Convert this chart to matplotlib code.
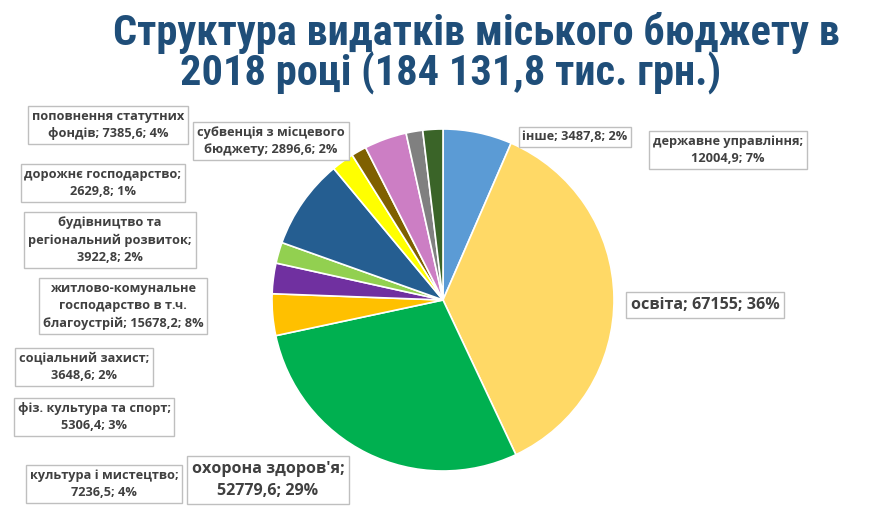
import matplotlib
matplotlib.use('Agg')
import matplotlib.pyplot as plt
from matplotlib import font_manager

# Data (тис. грн.), clockwise from 12 o'clock
categories = [
    "державне управління",
    "освіта",
    "охорона здоров'я",
    "культура і мистецтво",
    "фіз. культура та спорт",
    "соціальний захист",
    "житлово-комунальне\nгосподарство в т.ч.\nблагоустрій",
    "будівництво та\nрегіональний розвиток",
    "дорожнє господарство",
    "поповнення статутних\nфондів",
    "субвенція з місцевого\nбюджету",
    "інше",
]
values = [12004.9, 67155, 52779.6, 7236.5, 5306.4, 3648.6,
          15678.2, 3922.8, 2629.8, 7385.6, 2896.6, 3487.8]
percents = [7, 36, 29, 4, 3, 2, 8, 2, 1, 4, 2, 2]

colors = ['#5B9BD5', '#FFD966', '#00B050', '#FFC000', '#7030A0', '#92D050',
          '#255E91', '#FFFF00', '#7F6000', '#CC7EC4', '#808080', '#3A6428']

# label layout (pixel centres, y from top), separator before value, size
label_pos = [(728, 150), (705, 305), (268, 480), (104, 484), (94, 417), (84, 367),
             (123, 306), (110, 240), (103, 183), (108, 125), (271, 141), (575, 137)]
label_sep = [';\n', '; ', ';\n', ';\n', ';\n', ';\n', '; ', ';\n', ';\n', '; ', '; ', '; ']
label_big = [False, True, True] + [False] * 9

W, H = 874, 512
fig = plt.figure(figsize=(W / 100, H / 100), dpi=100)
ax = fig.add_axes([0, 0, 1, 1])
ax.set_xlim(0, W)
ax.set_ylim(0, H)
ax.set_aspect('equal')
ax.axis('off')

ax.pie(values, colors=colors, startangle=90, counterclock=False,
       center=(443, H - 300), radius=171,
       wedgeprops=dict(edgecolor='white', linewidth=1.2))
ax.set_xlim(0, W)
ax.set_ylim(0, H)


def fmt(v):
    return f"{v:g}".replace('.', ',')


for name, v, p, (x, y), sep, big in zip(categories, values, percents,
                                        label_pos, label_sep, label_big):
    txt = f"{name}{sep}{fmt(v)}; {p}%"
    ax.text(x, H - y, txt, ha='center', va='center', ma='center',
            fontsize=11.6 if big else 9.2, fontweight='bold', color='#404040',
            family=['Open Sans', 'DejaVu Sans'], linespacing=1.45,
            bbox=dict(boxstyle='square,pad=0.3', facecolor='white',
                      edgecolor='#BFBFBF', linewidth=1))

# narrow title font if one is installed
installed = {f.name for f in font_manager.fontManager.ttflist}
title_size = 26
title_font = 'Liberation Sans'
for cand in ['Liberation Sans Narrow', 'Roboto Condensed', 'DejaVu Sans Condensed']:
    if cand in installed:
        title_font = cand
        title_size = 30.5
        break

ax.text(476, H - 33, "Структура видатків міського бюджету в", ha='center', va='center',
        fontsize=title_size, fontweight='bold', color='#1F4E79', family=title_font)
ax.text(451, H - 73, "2018 році (184 131,8 тис. грн.)", ha='center', va='center',
        fontsize=title_size, fontweight='bold', color='#1F4E79', family=title_font)

fig.savefig('out.png', dpi=100)
